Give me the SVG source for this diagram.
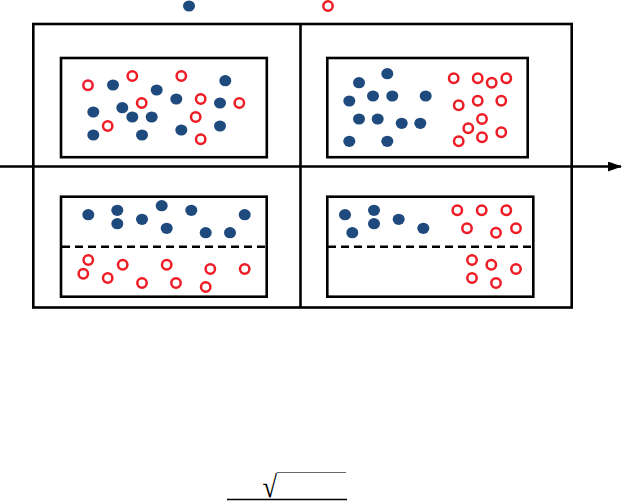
<svg xmlns="http://www.w3.org/2000/svg" width="622" height="501" viewBox="0 0 622 501">
<defs>
<style>
.box{fill:none;stroke:#000;stroke-width:2.6}
.ln{fill:none;stroke:#000;stroke-width:2.6}
.dash{fill:none;stroke:#000;stroke-width:2.6;stroke-dasharray:8 5}
.b{fill:#1f4a7d}
.r{fill:none;stroke:#ee1c25;stroke-width:2.5}
</style>
<marker id="arr" markerWidth="14" markerHeight="10" refX="13" refY="5" orient="auto" markerUnits="userSpaceOnUse">
<path d="M0,0 L14,5 L0,10 Z" fill="#000"/>
</marker>
</defs>
<rect width="622" height="501" fill="#fff"/>

<g id="legend">
<ellipse class="b" cx="189" cy="6" rx="6" ry="5.6"/>
<circle class="r" cx="328" cy="6" r="4.7"/>
</g>

<g id="frame">
<rect class="box" x="33.3" y="24" width="538.4" height="283.5"/>
<line class="ln" x1="300.5" y1="24" x2="300.5" y2="307.5"/>
</g>

<g id="connectors">
<line class="ln" x1="0" y1="166.5" x2="621" y2="166.5" marker-end="url(#arr)"/>
</g>

<g id="panel-tl">
<rect class="box" x="61" y="58" width="205.8" height="99.2"/>
<g class="b">
<ellipse cx="113" cy="85" rx="6" ry="5.6"/><ellipse cx="156.7" cy="90" rx="6" ry="5.6"/><ellipse cx="225.3" cy="80.7" rx="6" ry="5.6"/>
<ellipse cx="176.3" cy="99" rx="6" ry="5.6"/><ellipse cx="220" cy="103" rx="6" ry="5.6"/><ellipse cx="93.3" cy="112" rx="6" ry="5.6"/>
<ellipse cx="122.3" cy="107.7" rx="6" ry="5.6"/><ellipse cx="132.3" cy="117" rx="6" ry="5.6"/><ellipse cx="151.7" cy="117" rx="6" ry="5.6"/>
<ellipse cx="93.3" cy="135" rx="6" ry="5.6"/><ellipse cx="142" cy="135" rx="6" ry="5.6"/><ellipse cx="181.3" cy="130" rx="6" ry="5.6"/>
<ellipse cx="220" cy="126" rx="6" ry="5.6"/>
</g>
<g class="r">
<circle cx="88" cy="85.3" r="4.7"/><circle cx="132.3" cy="76" r="4.7"/><circle cx="181.3" cy="76" r="4.7"/>
<circle cx="141.7" cy="103" r="4.7"/><circle cx="200.7" cy="99" r="4.7"/><circle cx="239.3" cy="103" r="4.7"/>
<circle cx="107.7" cy="126" r="4.7"/><circle cx="195.7" cy="117" r="4.7"/><circle cx="200.7" cy="139.3" r="4.7"/>
</g>
</g>

<g id="panel-tr">
<rect class="box" x="327.3" y="58" width="200.4" height="99.2"/>
<g class="b">
<ellipse cx="387.3" cy="73.7" rx="6" ry="5.6"/><ellipse cx="359" cy="82.7" rx="6" ry="5.6"/><ellipse cx="349.3" cy="101" rx="6" ry="5.6"/>
<ellipse cx="373" cy="96" rx="6" ry="5.6"/><ellipse cx="392.3" cy="96" rx="6" ry="5.6"/><ellipse cx="425.7" cy="96" rx="6" ry="5.6"/>
<ellipse cx="359" cy="119" rx="6" ry="5.6"/><ellipse cx="377.7" cy="119" rx="6" ry="5.6"/><ellipse cx="401.7" cy="123.3" rx="6" ry="5.6"/>
<ellipse cx="420.3" cy="123.3" rx="6" ry="5.6"/><ellipse cx="349.3" cy="141.3" rx="6" ry="5.6"/><ellipse cx="387.3" cy="141.3" rx="6" ry="5.6"/>
</g>
<g class="r">
<circle cx="453.7" cy="78.3" r="4.7"/><circle cx="477.7" cy="78.3" r="4.7"/><circle cx="491.7" cy="82.7" r="4.7"/>
<circle cx="506.3" cy="78.3" r="4.7"/><circle cx="458.7" cy="105.3" r="4.7"/><circle cx="477.7" cy="100.7" r="4.7"/>
<circle cx="501.3" cy="100.7" r="4.7"/><circle cx="482" cy="119" r="4.7"/><circle cx="468.3" cy="128.3" r="4.7"/>
<circle cx="501.3" cy="132.3" r="4.7"/><circle cx="458.7" cy="141.3" r="4.7"/><circle cx="482" cy="137.3" r="4.7"/>
</g>
</g>

<g id="panel-bl">
<rect class="box" x="61" y="196.7" width="205.7" height="100"/>
<line class="dash" x1="62" y1="246.7" x2="266" y2="246.7"/>
<g class="b">
<ellipse cx="88.3" cy="214.7" rx="6" ry="5.6"/><ellipse cx="117.3" cy="210.3" rx="6" ry="5.6"/><ellipse cx="117.3" cy="223.7" rx="6" ry="5.6"/>
<ellipse cx="142" cy="219.3" rx="6" ry="5.6"/><ellipse cx="161.7" cy="205.7" rx="6" ry="5.6"/><ellipse cx="166.7" cy="228.3" rx="6" ry="5.6"/>
<ellipse cx="191.3" cy="210.3" rx="6" ry="5.6"/><ellipse cx="205.7" cy="232.7" rx="6" ry="5.6"/><ellipse cx="230" cy="232.7" rx="6" ry="5.6"/>
<ellipse cx="244.7" cy="214.7" rx="6" ry="5.6"/>
</g>
<g class="r">
<circle cx="88.3" cy="260" r="4.7"/><circle cx="83.3" cy="273.7" r="4.7"/><circle cx="107.7" cy="278" r="4.7"/>
<circle cx="122.7" cy="264.7" r="4.7"/><circle cx="142" cy="283" r="4.7"/><circle cx="166.7" cy="264.7" r="4.7"/>
<circle cx="176" cy="283" r="4.7"/><circle cx="210.3" cy="269" r="4.7"/><circle cx="205.7" cy="287" r="4.7"/>
<circle cx="244.7" cy="269" r="4.7"/>
</g>
</g>

<g id="panel-br">
<rect class="box" x="327.3" y="196.7" width="206" height="100"/>
<line class="dash" x1="328" y1="246.7" x2="532" y2="246.7"/>
<g class="b">
<ellipse cx="345" cy="214.7" rx="6" ry="5.6"/><ellipse cx="374" cy="210.3" rx="6" ry="5.6"/><ellipse cx="374" cy="223.7" rx="6" ry="5.6"/>
<ellipse cx="352.3" cy="232.7" rx="6" ry="5.6"/><ellipse cx="398.7" cy="219.3" rx="6" ry="5.6"/><ellipse cx="423.3" cy="228.3" rx="6" ry="5.6"/>
</g>
<g class="r">
<circle cx="457.3" cy="210.3" r="4.7"/><circle cx="481.7" cy="210.3" r="4.7"/><circle cx="506.3" cy="210.3" r="4.7"/>
<circle cx="467" cy="228.3" r="4.7"/><circle cx="496" cy="232.7" r="4.7"/><circle cx="516" cy="228.3" r="4.7"/>
<circle cx="472" cy="260" r="4.7"/><circle cx="491.3" cy="264.7" r="4.7"/><circle cx="516" cy="269" r="4.7"/>
<circle cx="472" cy="278" r="4.7"/><circle cx="496" cy="283" r="4.7"/>
</g>
</g>

<g id="formula">
<text transform="translate(262.5,497) scale(0.95,1.1)" font-family="Liberation Serif, serif" font-size="28">√</text>
<line x1="277" y1="472.5" x2="346" y2="472.5" stroke="#666" stroke-width="1"/>
<line x1="227" y1="499.5" x2="347" y2="499.5" stroke="#000" stroke-width="1.5"/>
</g>
</svg>
